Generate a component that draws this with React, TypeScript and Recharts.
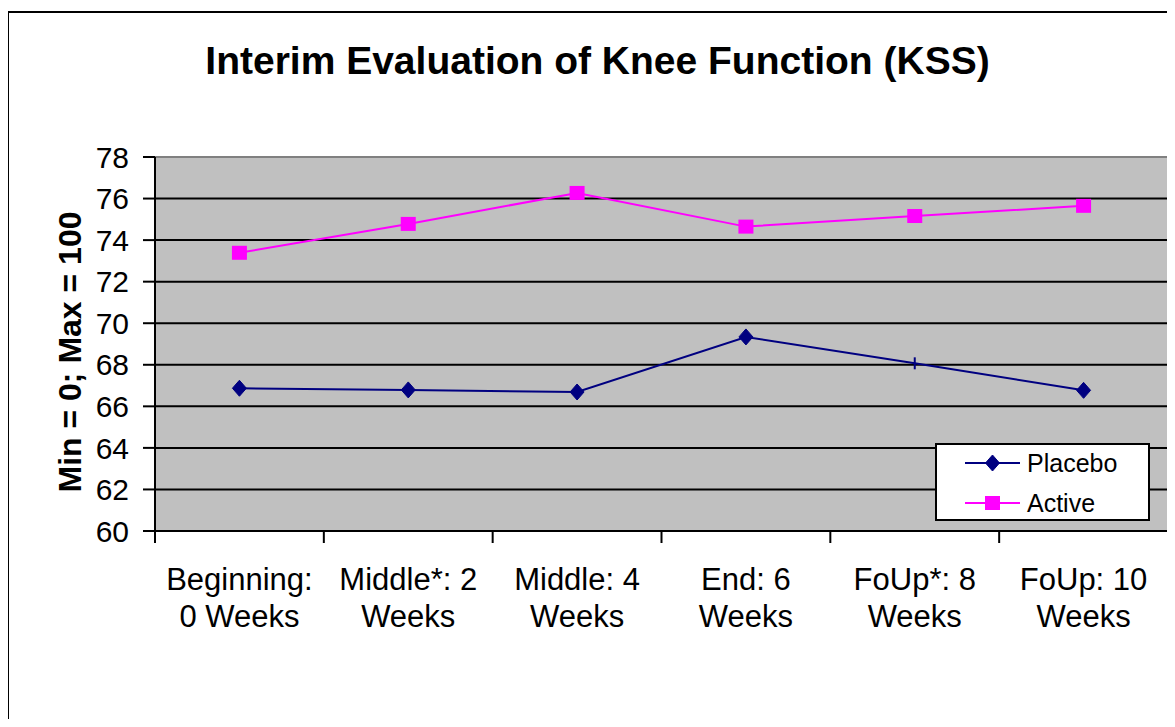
import React from "react";
import { LineChart, Line, XAxis, YAxis, CartesianGrid, Legend } from "recharts";

// values
const categories = [
  "Beginning:\n0 Weeks",
  "Middle*: 2\nWeeks",
  "Middle: 4\nWeeks",
  "End: 6\nWeeks",
  "FoUp*: 8\nWeeks",
  "FoUp: 10\nWeeks",
];
const seriesNames = ["Placebo", "Active"];
const placebo = [66.87, 66.79, 66.69, 69.34, 68.07, 66.77];
const active = [73.39, 74.78, 76.27, 74.65, 75.16, 75.65];
const yTicks = [60, 62, 64, 66, 68, 70, 72, 74, 76, 78];

const data = categories.map((name, i) => ({ name, Placebo: placebo[i], Active: active[i] }));

const FONT = "'Liberation Sans', Arial, sans-serif";
const NAVY = "#000080";
const MAGENTA = "#FF00FF";

function Marker({ kind, cx, cy, plain }: any) {
  if (plain) {
    return <line x1={cx} x2={cx} y1={cy - 6} y2={cy + 6} stroke={NAVY} strokeWidth={2} />;
  }
  if (kind === "Placebo") {
    return (
      <polygon
        points={`${cx},${cy - 8} ${cx + 7},${cy} ${cx},${cy + 8} ${cx - 7},${cy}`}
        fill={NAVY}
        stroke={NAVY}
      />
    );
  }
  return <rect x={cx - 7.5} y={cy - 7} width={15} height={14} fill={MAGENTA} />;
}

const placeboDot = (p: any) => (
  <Marker key={`pl-${p.index}`} kind="Placebo" cx={p.cx} cy={p.cy} plain={p.index === 4} />
);
const activeDot = (p: any) => <Marker key={`ac-${p.index}`} kind="Active" cx={p.cx} cy={p.cy} />;

function CategoryTick(props: any) {
  const { x, y, payload, index } = props;
  const half = payload.offset || 0;
  const lines = String(payload.value).split("\n");
  return (
    <g>
      <line x1={x - half} x2={x - half} y1={y} y2={y + 12} stroke="#000" strokeWidth={2} />
      {index === categories.length - 1 && (
        <line x1={x + half} x2={x + half} y1={y} y2={y + 12} stroke="#000" strokeWidth={2} />
      )}
      <text x={x} y={y + 59} textAnchor="middle" fontSize={31} fontFamily={FONT} fill="#000">
        {lines.map((t, i) => (
          <tspan key={i} x={x} dy={i === 0 ? 0 : 37}>
            {t}
          </tspan>
        ))}
      </text>
    </g>
  );
}

function LegendBox(props: any) {
  const items = [...(props.payload || [])].sort(
    (a: any, b: any) => seriesNames.indexOf(a.value) - seriesNames.indexOf(b.value)
  );
  return (
    <div
      style={{
        width: 215,
        height: 78,
        boxSizing: "border-box",
        border: "2px solid #000",
        background: "#fff",
        position: "relative",
        fontFamily: FONT,
        fontSize: 25,
      }}
    >
      {items.map((it: any, i: number) => {
        const cy = 20 + i * 39.5 - 2;
        return (
          <div key={it.value} style={{ position: "absolute", left: 0, top: cy - 15, height: 30, width: 211 }}>
            <svg width={90} height={30} style={{ position: "absolute", left: 0, top: 0 }}>
              <line x1={28} x2={83} y1={15} y2={15} stroke={it.color} strokeWidth={2} />
              <Marker kind={it.value} cx={55.5} cy={15} />
            </svg>
            <span style={{ position: "absolute", left: 90, top: 0, lineHeight: "30px" }}>{it.value}</span>
          </div>
        );
      })}
    </div>
  );
}

export default function App() {
  return (
    <div style={{ position: "relative", width: 1159, height: 711, fontFamily: FONT }}>
      <div
        style={{
          position: "absolute",
          left: -1,
          top: 3,
          width: 1167,
          height: 708,
          boxSizing: "border-box",
          border: "2px solid #000",
          borderBottom: "none",
        }}
      />
      <div
        style={{
          position: "absolute",
          left: 597.5 - 8 - 450,
          top: 32.5,
          width: 900,
          textAlign: "center",
          fontSize: 39,
          lineHeight: "39px",
          fontWeight: "bold",
          whiteSpace: "nowrap",
        }}
      >
        Interim Evaluation of Knee Function (KSS)
      </div>
      <div
        style={{
          position: "absolute",
          left: 70 - 8 - 200,
          top: 352 - 8 - 20,
          width: 400,
          height: 40,
          lineHeight: "40px",
          textAlign: "center",
          fontSize: 32,
          fontWeight: "bold",
          transform: "rotate(-90deg)",
          whiteSpace: "nowrap",
        }}
      >
        Min = 0; Max = 100
      </div>
      <div style={{ position: "absolute", left: -8, top: -8 }}>
        <LineChart width={1175} height={719} data={data} margin={{ top: 157, right: 7, bottom: 88, left: 0 }}>
          <CartesianGrid vertical={false} stroke="#000" strokeWidth={2} fill="#C0C0C0" fillOpacity={1} />
          <CartesianGrid
            stroke="#808080"
            strokeWidth={2}
            horizontalCoordinatesGenerator={({ offset }: any) => [offset.top]}
            verticalCoordinatesGenerator={({ offset }: any) => [offset.left + offset.width]}
          />
          <XAxis
            dataKey="name"
            scale="band"
            interval={0}
            height={100}
            tickLine={false}
            tickSize={0}
            tickMargin={0}
            axisLine={{ stroke: "#000", strokeWidth: 2 }}
            tick={<CategoryTick />}
          />
          <YAxis
            width={155}
            domain={[60, 78]}
            ticks={yTicks}
            interval={0}
            tickSize={12}
            tickMargin={14}
            axisLine={{ stroke: "#000", strokeWidth: 2 }}
            tickLine={{ stroke: "#000", strokeWidth: 2 }}
            tick={{ fontSize: 30, fill: "#000", fontFamily: FONT }}
          />
          <Legend
            layout="vertical"
            align="center"
            verticalAlign="middle"
            wrapperStyle={{ left: 935, top: 443, width: 215, height: 78 }}
            content={<LegendBox />}
          />
          <Line
            type="linear"
            dataKey="Placebo"
            stroke={NAVY}
            strokeWidth={2}
            dot={placeboDot}
            activeDot={false}
            isAnimationActive={false}
          />
          <Line
            type="linear"
            dataKey="Active"
            stroke={MAGENTA}
            strokeWidth={2}
            dot={activeDot}
            activeDot={false}
            isAnimationActive={false}
          />
        </LineChart>
      </div>
    </div>
  );
}
